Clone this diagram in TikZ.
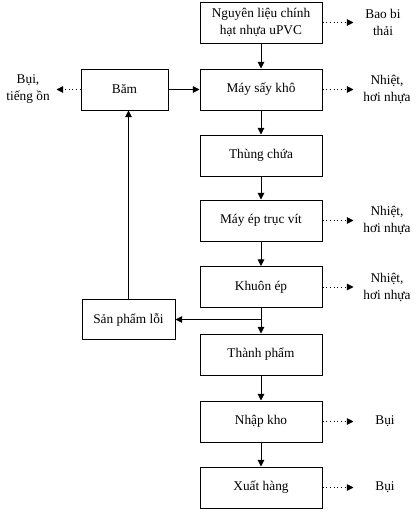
\documentclass[tikz,border=0pt]{standalone}
\usepackage{fontspec}
\setmainfont{Liberation Serif}
\usetikzlibrary{arrows.meta,positioning}

\begin{document}
\begin{tikzpicture}[x=0.75pt, y=-0.75pt, align=center,
  font=\fontsize{10}{12.75}\selectfont,
  box/.style={draw, line width=0.75pt, minimum width=91.5pt, minimum height=30.75pt, inner sep=0pt},
  flow/.style={line width=0.75pt, -{Triangle[length=5pt,width=5pt]}},
  waste/.style={line width=0.75pt, dotted, -{Triangle[length=5pt,width=5pt]}}]
  \useasboundingbox (0,0) rectangle (418,514);
  % main line
  \node[box] (nguyenlieu) at (261,22.5) {Nguyên liệu chính\\hạt nhựa uPVC};
  \node[box] (maysay) at (261,89.5) {Máy sấy khô};
  \node[box] (thung) at (261,155.5) {Thùng chứa};
  \node[box] (mayep) at (261,220.5) {Máy ép trục vít};
  \node[box] (khuon) at (261,287) {Khuôn ép};
  \node[box] (thanhpham) at (261,354.5) {Thành phẩm};
  \node[box] (nhapkho) at (261,421.5) {Nhập kho};
  \node[box] (xuathang) at (261,487.5) {Xuất hàng};
  % recycling
  \node[box, minimum width=65.25pt] (bam) at (124.5,89.5) {Băm};
  \node[box, minimum width=69.75pt, minimum height=30pt] (sploi) at (128.5,319.5) {Sản phẩm lỗi};
  % emissions
  \node (baobi) at (383,22.5) {Bao bi\\thải};
  \node (nhiet1) at (387,89.5) {Nhiệt,\\hơi nhựa};
  \node (nhiet2) at (387,220.5) {Nhiệt,\\hơi nhựa};
  \node (nhiet3) at (387,287) {Nhiệt,\\hơi nhựa};
  \node (bui1) at (385,421.5) {Bụi};
  \node (bui2) at (385,487.5) {Bụi};
  \node (bui3) at (28,89.5) {Bụi,\\tiếng ồn};
  \coordinate (split) at (khuon.south |- sploi.east);

  \draw[flow] (nguyenlieu) -- (maysay);
  \draw[flow] (maysay) -- (thung);
  \draw[flow] (thung) -- (mayep);
  \draw[flow] (mayep) -- (khuon);
  \draw[flow] (khuon) -- (thanhpham);
  \draw[flow] (thanhpham) -- (nhapkho);
  \draw[flow] (nhapkho) -- (xuathang);
  \draw[flow] (split) -- (sploi.east);
  \draw[flow] (sploi.north) -- (sploi.north |- bam.south);
  \draw[flow] (bam) -- (maysay);

  \draw[waste] (nguyenlieu.east) -- ++(31,0);
  \draw[waste] (maysay.east) -- ++(31,0);
  \draw[waste] (mayep.east) -- ++(31,0);
  \draw[waste] (khuon.east) -- ++(31,0);
  \draw[waste] (nhapkho.east) -- ++(31,0);
  \draw[waste] (xuathang.east) -- ++(31,0);
  \draw[waste] (bam.west) -- ++(-24,0);
\end{tikzpicture}
\end{document}
